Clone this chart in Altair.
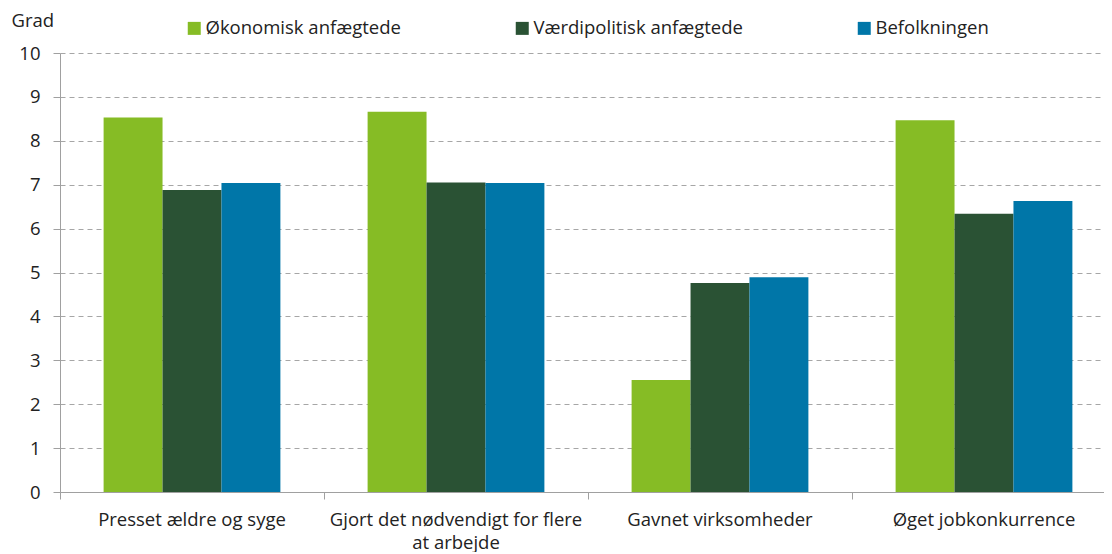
import altair as alt
import pandas as pd

categories = ["Presset ældre og syge", "Gjort det nødvendigt for flere at arbejde",
              "Gavnet virksomheder", "Øget jobkonkurrence"]
series = ["Økonomisk anfægtede", "Værdipolitisk anfægtede", "Befolkningen"]
oekonomisk = [8.53, 8.66, 2.55, 8.47]
vaerdipolitisk = [6.88, 7.05, 4.76, 6.34]
befolkningen = [7.04, 7.04, 4.89, 6.63]
colors = ["#86BC25", "#2A5234", "#0076A8"]

rows = []
for s, vals in zip(series, [oekonomisk, vaerdipolitisk, befolkningen]):
    for c, v in zip(categories, vals):
        rows.append({"kategori": c, "serie": s, "værdi": v})
df = pd.DataFrame(rows)

FONT = "Open Sans"
FS = 18.5

chart = alt.Chart(df).mark_bar().encode(
    x=alt.X("kategori:N", sort=categories,
            scale=alt.Scale(paddingInner=0, paddingOuter=0, range=[0, 1056]),
            axis=alt.Axis(title=None, labelAngle=0, bandPosition=0, tickSize=7,
                          labelPadding=11, labelFontSize=FS, labelFont=FONT,
                          labelColor="#222222", domainColor="#a0a0a0",
                          tickColor="#a0a0a0", labelLimit=400, labelLineHeight=23,
                          labelExpr="datum.label == 'Gjort det nødvendigt for flere at arbejde' ? ['Gjort det nødvendigt for flere', 'at arbejde'] : datum.label")),
    xOffset=alt.XOffset("serie:N", sort=series,
                        scale=alt.Scale(paddingInner=0, paddingOuter=0.74)),
    y=alt.Y("værdi:Q", scale=alt.Scale(domain=[0, 10]),
            axis=alt.Axis(values=list(range(0, 11)), title="Grad", titleAngle=0,
                          titleAlign="left", titleBaseline="middle",
                          titleX=-49, titleY=-33, titleFont=FONT, titleFontSize=FS,
                          titleFontWeight="normal", titleColor="#222222",
                          labelFont=FONT, labelFontSize=FS, labelColor="#222222",
                          labelPadding=13, tickSize=7, tickColor="#a0a0a0",
                          domainColor="#a0a0a0", gridColor="#a6a6a6",
                          gridDash=[5, 4], gridWidth=1)),
    color=alt.Color("serie:N", sort=series,
                    scale=alt.Scale(domain=series, range=colors),
                    legend=alt.Legend(title=None, orient="none", direction="horizontal",
                                      legendX=125, legendY=-34, symbolType="square",
                                      symbolSize=169, symbolStrokeWidth=0,
                                      labelFont=FONT, labelFontSize=FS,
                                      labelColor="#222222", labelOffset=2,
                                      columnPadding=112, padding=0, labelLimit=400)),
).properties(
    width=1044, height=439,
    autosize=alt.AutoSizeParams(type="none"),
    padding={"left": 52, "top": 45, "right": 0, "bottom": 60},
).configure_view(stroke=None).configure_axisX(grid=False)

chart.save("out.html", embed_options={"renderer": "svg", "actions": False})
